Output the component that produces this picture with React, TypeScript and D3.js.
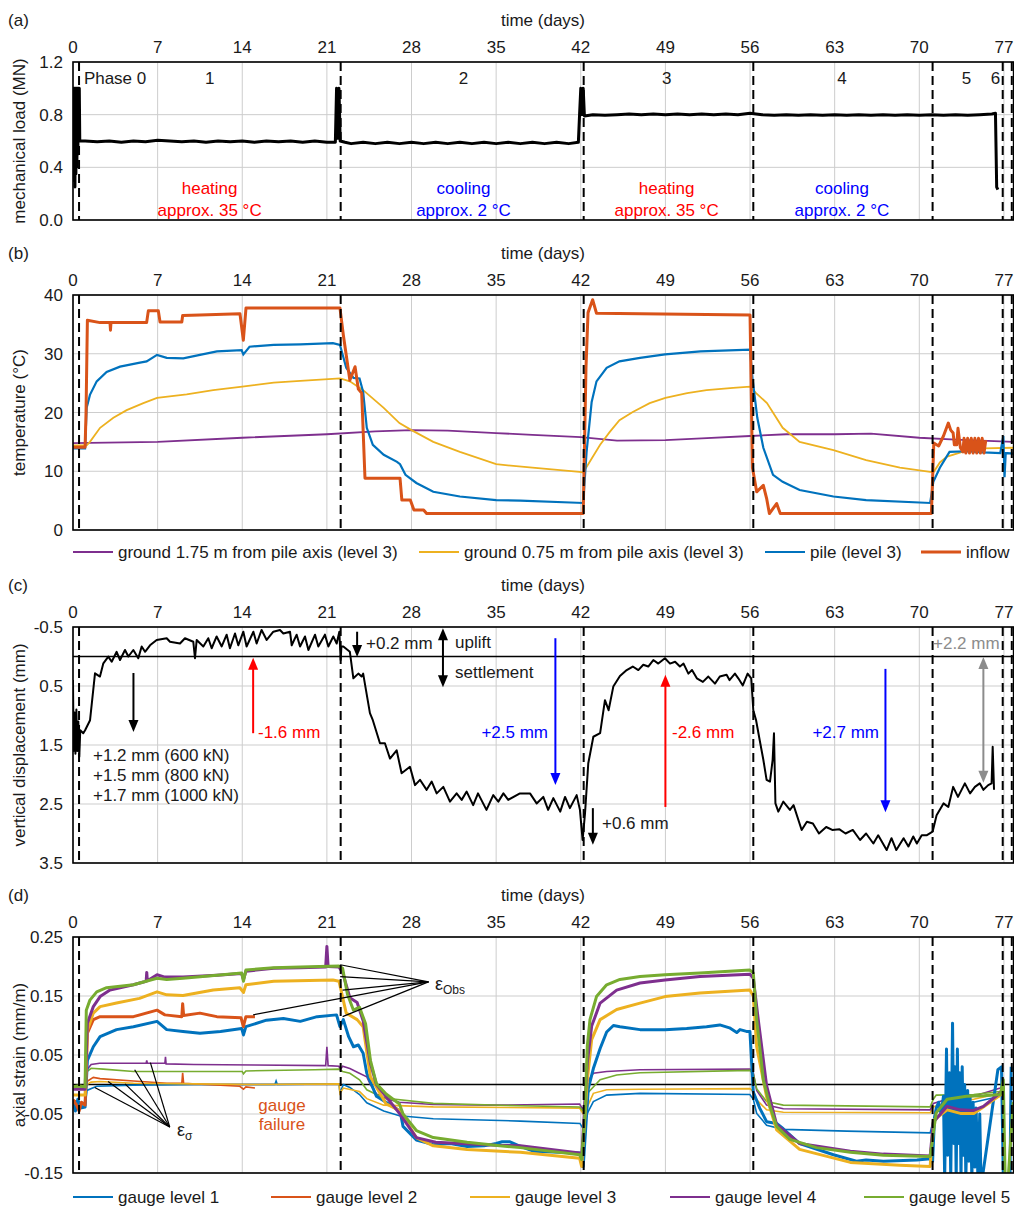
import * as d3 from "d3";

type Pt = [number, number];

const W = 1014;
const H = 1206;
const xMax = 77.8;
const dayTicks = [0, 7, 14, 21, 28, 35, 42, 49, 56, 63, 70, 77];
const phaseBounds = [0.5, 22.14, 42.24, 56.27, 71.1, 76.9, 77.65];

// (a) mechanical load
const loadTicks = [0, 0.4, 0.8, 1.2];
const loadMN: Pt[] = [
  [0, 0.45], [0.04, 1.0], [0.08, 0.3], [0.12, 1.0], [0.16, 0.25], [0.2, 1.0], [0.24, 0.35], [0.28, 1.0],
  [0.32, 0.4], [0.36, 1.0], [0.4, 0.5], [0.44, 1.0], [0.48, 0.6], [0.52, 1.0], [0.56, 0.6], [1, 0.6],
  [2, 0.595], [3, 0.6], [4, 0.59], [5, 0.6], [6, 0.595], [7, 0.605], [8, 0.6], [9, 0.595], [10, 0.6],
  [11, 0.59], [12, 0.6], [13, 0.595], [14, 0.6], [15, 0.59], [16, 0.6], [17, 0.595], [18, 0.6], [19, 0.59],
  [20, 0.6], [21, 0.59], [21.7, 0.59], [21.8, 1.0], [21.9, 0.62], [22.0, 1.0], [22.1, 0.6], [22.5, 0.59],
  [23, 0.58], [24, 0.59], [25, 0.58], [26, 0.59], [27, 0.58], [28, 0.59], [29, 0.58], [30, 0.59], [31, 0.58],
  [32, 0.59], [33, 0.58], [34, 0.59], [35, 0.58], [36, 0.59], [37, 0.58], [38, 0.59], [39, 0.58], [40, 0.59],
  [41, 0.58], [41.8, 0.59], [41.9, 0.8], [42.0, 1.0], [42.1, 0.8], [42.2, 1.0], [42.3, 0.79], [43, 0.8],
  [44, 0.795], [45, 0.8], [46, 0.805], [47, 0.8], [48, 0.805], [49, 0.8], [50, 0.805], [51, 0.8], [52, 0.805],
  [53, 0.8], [54, 0.805], [55, 0.8], [56, 0.81], [57, 0.8], [58, 0.795], [59, 0.8], [60, 0.795], [61, 0.8],
  [62, 0.795], [63, 0.8], [64, 0.795], [65, 0.8], [66, 0.795], [67, 0.8], [68, 0.795], [69, 0.8], [70, 0.795],
  [71, 0.8], [72, 0.795], [73, 0.8], [74, 0.795], [75, 0.8], [76, 0.805], [76.3, 0.81], [76.4, 0.25], [76.5, 0.23],
];
const phaseNames = ["Phase 0", "1", "2", "3", "4", "5", "6"];
const phaseLabelDays = [0.9, 11.3, 32.3, 49.1, 63.6, 73.9, 76.3];
const regimeDays = [11.3, 32.3, 49.1, 63.6];
const regimeNames = ["heating", "cooling", "heating", "cooling"];
const regimeTemps = ["approx. 35 °C", "approx. 2 °C", "approx. 35 °C", "approx. 2 °C"];

// (b) temperatures
const tempTicks = [0, 10, 20, 30, 40];
const ground175: Pt[] = [
  [0, 14.8], [7, 15.0], [14, 15.7], [21, 16.3], [25, 16.8], [28, 17.0], [31, 16.9], [35, 16.5], [38, 16.2],
  [42, 15.8], [45, 15.2], [49, 15.3], [52, 15.6], [56, 16.0], [59, 16.3], [63, 16.3], [66, 16.4], [70, 15.7],
  [73, 15.4], [77.8, 15.0],
];
const ground075: Pt[] = [
  [0, 14.4], [1.13, 14.4], [1.4, 15.0], [2.24, 17.4], [3.34, 19.1], [4.44, 20.4], [5.82, 21.6], [6.95, 22.5],
  [9.4, 23.1], [11.6, 23.8], [14.0, 24.4], [16.6, 25.1], [18.8, 25.4], [22.1, 25.8], [22.9, 25.3], [24.0, 23.8],
  [25.7, 20.8], [27.0, 18.2], [28.0, 17.0], [29.8, 15.0], [32.0, 13.3], [35.0, 11.2], [38.0, 10.6], [41.9, 9.9],
  [42.2, 9.8], [43.6, 14.5], [44.4, 16.7], [45.2, 18.7], [46.3, 20.1], [47.7, 21.6], [49.0, 22.5], [50.8, 23.3],
  [52.4, 23.8], [54.6, 24.2], [56.0, 24.4], [56.5, 23.3], [57.4, 21.6], [58.7, 17.4], [60.1, 15.0], [62.9, 13.6],
  [65.6, 11.9], [68.4, 10.6], [70.9, 9.9], [71.2, 9.9], [71.7, 11.5], [72.3, 12.5], [73.9, 13.5], [75.3, 13.9],
  [77.8, 14.0],
];
const pile: Pt[] = [
  [0, 13.9], [1.0, 13.9], [1.13, 20.8], [1.4, 23.0], [1.96, 25.3], [2.78, 26.9], [3.89, 27.8], [5.54, 28.5],
  [6.09, 28.7], [6.95, 29.8], [7.75, 29.3], [9.12, 29.2], [10.5, 29.8], [11.9, 30.4], [13.95, 30.6], [14.09, 29.9],
  [14.6, 31.2], [16.6, 31.5], [18.8, 31.6], [21.5, 31.8], [22.08, 31.5], [22.6, 27.6], [23.2, 25.9], [23.7, 25.8],
  [24.0, 23.5], [24.3, 17.4], [24.8, 14.5], [25.7, 12.8], [26.8, 11.6], [27.05, 11.2], [27.5, 9.4], [28.4, 8.0],
  [29.8, 6.5], [32.0, 5.7], [35.0, 5.1], [37.0, 5.0], [42.2, 4.6], [42.48, 13.3], [42.9, 21.8], [43.3, 25.3],
  [44.14, 27.6], [45.2, 28.7], [46.9, 29.3], [48.97, 29.9], [51.9, 30.4], [56.0, 30.7], [56.2, 25.9], [56.6, 19.1],
  [57.1, 14.0], [57.9, 9.4], [58.7, 8.2], [60.1, 6.8], [62.9, 5.7], [65.6, 5.1], [70.9, 4.6], [71.16, 8.2],
  [71.7, 10.6], [72.5, 13.3], [73.9, 13.4], [75.3, 13.2], [76.7, 13.1], [76.95, 16.0], [77.05, 9.0], [77.15, 13.1],
  [77.8, 13.0],
];
const inflow: Pt[] = [
  [0, 14.1], [1.0, 14.1], [1.08, 20.1], [1.19, 35.7], [2.24, 35.3], [3.06, 35.3], [3.1, 34.0], [3.14, 35.3],
  [6.09, 35.3], [6.23, 37.3], [7.06, 37.3], [7.2, 35.4], [9.0, 35.4], [9.07, 36.5], [10.5, 36.6], [13.81, 36.8],
  [14.09, 32.3], [14.31, 37.8], [22.08, 37.8], [22.36, 33.2], [22.9, 25.5], [23.33, 27.8], [23.6, 24.0],
  [23.88, 23.3], [24.15, 8.8], [27.05, 8.8], [27.2, 5.1], [27.9, 5.1], [28.2, 3.4], [29.0, 3.4], [29.25, 2.8],
  [42.2, 2.8], [42.43, 27.6], [42.6, 37.0], [42.98, 39.2], [43.3, 36.9], [56.0, 36.6], [56.2, 10.6], [56.55, 6.5],
  [57.1, 7.6], [57.37, 5.4], [57.6, 2.8], [58.2, 4.5], [58.5, 2.8], [71.0, 2.8], [71.2, 14.8], [71.6, 14.3],
  [72.0, 16.0], [72.4, 18.2], [72.6, 17.0], [72.8, 16.5], [72.9, 14.5], [73.1, 14.5], [73.2, 17.3], [73.4, 14.0],
  [73.6, 13.3], [73.7, 15.6], [73.85, 13.1], [74.0, 15.6], [74.15, 13.1], [74.3, 15.6], [74.45, 13.1],
  [74.6, 15.6], [74.75, 13.1], [74.9, 15.6], [75.05, 13.1], [75.2, 15.6], [75.35, 13.1], [75.5, 15.3],
];

// (c) vertical displacement
const dispTicks = [-0.5, 0.5, 1.5, 2.5, 3.5];
const displacement: Pt[] = [
  [0, 0.4], [0.05, 1.6], [0.12, 0.95], [0.2, 1.65], [0.28, 0.9], [0.36, 1.6], [0.44, 1.1], [0.52, 1.7],
  [0.6, 1.25], [0.85, 1.3], [1.0, 1.25], [1.41, 1.08], [1.82, 0.285], [2.23, 0.34], [2.51, 0.116], [2.92, 0.003],
  [3.2, 0.088], [3.61, -0.08], [3.89, 0.06], [4.3, -0.11], [4.58, 0.0], [4.99, -0.11], [5.4, 0.03], [5.68, -0.17],
  [5.96, -0.08], [6.37, -0.19], [6.92, -0.28], [7.75, -0.31], [8.02, -0.25], [8.85, -0.22], [9.26, -0.31],
  [9.95, -0.25], [10.09, 0.03], [10.23, -0.28], [10.78, -0.17], [11.19, -0.31], [11.47, -0.14], [11.88, -0.34],
  [12.3, -0.17], [12.71, -0.37], [12.98, -0.14], [13.4, -0.39], [13.67, -0.19], [14.09, -0.42], [14.36, -0.17],
  [14.92, -0.42], [15.19, -0.22], [15.6, -0.45], [16.02, -0.28], [16.57, -0.42], [17.12, -0.45], [17.4, -0.39],
  [17.95, -0.42], [18.09, -0.19], [18.5, -0.37], [18.78, -0.17], [19.19, -0.34], [19.47, -0.11], [20.02, -0.37],
  [20.29, -0.17], [20.84, -0.37], [21.12, -0.17], [21.53, -0.34], [21.81, -0.22], [22.03, -0.42], [22.14, 0.06],
  [22.2, -0.17], [22.36, -0.17], [22.9, -0.08], [23.19, 0.37], [23.6, 0.29], [23.87, 0.34], [24.0, 0.29],
  [24.56, 0.96], [24.8, 1.08], [25.39, 1.47], [25.8, 1.47], [26.22, 1.73], [26.77, 1.59], [27.18, 1.98],
  [27.87, 1.87], [28.29, 2.18], [28.7, 2.09], [29.25, 2.26], [29.67, 2.12], [30.08, 2.32], [30.63, 2.21],
  [31.18, 2.46], [31.73, 2.32], [32.15, 2.43], [32.56, 2.29], [33.1, 2.52], [33.5, 2.32], [34.2, 2.6],
  [34.76, 2.35], [35.18, 2.46], [35.6, 2.32], [36.0, 2.43], [36.97, 2.32], [37.8, 2.32], [38.35, 2.49],
  [38.9, 2.38], [39.3, 2.6], [39.73, 2.4], [40.3, 2.63], [40.7, 2.38], [41.1, 2.57], [41.66, 2.35], [41.93, 2.6],
  [42.15, 3.11], [42.35, 2.66], [42.62, 1.81], [43.04, 1.36], [43.6, 1.3], [44.0, 0.74], [44.3, 0.91],
  [44.69, 0.51], [45.24, 0.33], [45.8, 0.23], [46.3, 0.17], [46.76, 0.23], [47.17, 0.14], [47.58, 0.17],
  [48.0, 0.06], [48.41, 0.12], [48.96, 0.03], [49.38, 0.12], [49.8, 0.09], [50.2, 0.17], [50.5, 0.12],
  [50.9, 0.29], [51.2, 0.23], [51.6, 0.37], [52.1, 0.43], [52.55, 0.34], [53.1, 0.46], [53.5, 0.34], [54.06, 0.31],
  [54.3, 0.4], [54.75, 0.29], [55.03, 0.37], [55.4, 0.49], [55.8, 0.29], [56.1, 0.37], [56.27, 0.91], [56.5, 1.08],
  [56.8, 1.42], [57.1, 1.75], [57.37, 2.09], [57.65, 2.12], [57.87, 1.75], [57.98, 1.3], [58.1, 2.49],
  [58.34, 2.63], [58.75, 2.46], [59.3, 2.6], [59.6, 2.52], [60.27, 2.94], [60.7, 2.8], [61.2, 2.83], [61.7, 3.0],
  [62.3, 2.89], [62.8, 2.94], [63.4, 2.93], [63.9, 3.0], [64.5, 2.94], [65.1, 3.11], [65.6, 3.0], [66.2, 3.17],
  [66.6, 3.03], [67.3, 3.28], [67.7, 3.08], [68.1, 3.28], [68.7, 3.08], [69.1, 3.22], [69.5, 3.05], [69.8, 3.17],
  [70.2, 3.03], [70.6, 3.03], [71.1, 2.97], [71.43, 2.69], [72.0, 2.49], [72.4, 2.55], [72.8, 2.21], [73.2, 2.38],
  [73.77, 2.15], [74.2, 2.32], [74.6, 2.21], [75.0, 2.15], [75.3, 2.26], [75.7, 2.18], [75.98, 2.15],
  [76.07, 1.53], [76.18, 2.26],
];
// arrows: day, from, to (mm)
const dispArrows = [
  { day: 5.0, from: 0.28, to: 1.28, color: "#000", both: false },
  { day: 14.9, from: 1.3, to: 0.02, color: "#ff0000", both: false },
  { day: 23.5, from: -0.42, to: 0.01, color: "#000", both: false },
  { day: 30.6, from: -0.48, to: 0.52, color: "#000", both: true },
  { day: 39.9, from: -0.31, to: 2.18, color: "#0000ff", both: false },
  { day: 43.0, from: 2.57, to: 3.19, color: "#000", both: false },
  { day: 49.0, from: 2.55, to: 0.31, color: "#ff0000", both: false },
  { day: 67.2, from: 0.21, to: 2.64, color: "#0000ff", both: false },
  { day: 75.3, from: 0.01, to: 2.14, color: "#8c8c8c", both: true },
];

// (d) axial strain
const strainTicks = [-0.15, -0.05, 0.05, 0.15, 0.25];
const g1Obs: Pt[] = [
  [0, -0.03], [0.2, -0.045], [0.4, -0.025], [0.6, -0.04], [1.0, -0.038], [1.19, 0.041], [1.68, 0.064],
  [2.24, 0.081], [3.6, 0.093], [5.0, 0.098], [6.95, 0.107], [7.75, 0.093], [9.1, 0.09], [10.5, 0.087],
  [12.2, 0.09], [13.95, 0.095], [14.1, 0.084], [14.3, 0.098], [16.0, 0.109], [17.4, 0.112], [18.8, 0.107],
  [20.2, 0.115], [21.8, 0.118], [22.08, 0.098], [22.36, 0.11], [22.8, 0.081], [23.2, 0.064], [23.6, 0.067],
  [24.0, 0.053], [24.3, 0.019], [25.1, -0.02], [27.05, -0.045], [27.3, -0.071], [28.4, -0.094], [29.8, -0.102],
  [31.2, -0.1], [32.6, -0.105], [34, -0.104], [35.0, -0.1], [35.5, -0.097], [36.1, -0.097], [37.0, -0.105],
  [38.07, -0.113], [41.93, -0.116], [42.2, -0.139], [42.62, -0.007], [43.04, 0.027], [43.6, 0.061],
  [44.14, 0.089], [44.7, 0.1], [45.24, 0.098], [46.9, 0.093], [48.97, 0.093], [50.76, 0.095], [52.4, 0.098],
  [53.5, 0.101], [54.3, 0.096], [54.9, 0.088], [55.17, 0.093], [55.7, 0.09], [55.99, 0.09], [56.27, -0.013],
  [56.8, -0.04], [57.37, -0.063], [58.2, -0.066], [58.75, -0.075], [60.1, -0.1], [62.9, -0.119], [64.8, -0.13],
  [65.6, -0.128], [67.03, -0.13], [69.8, -0.128], [70.9, -0.126], [71.1, -0.13], [71.25, -0.06], [71.4, -0.04],
  [71.6, -0.03], [71.8, -0.05], [72.0, -0.02], [72.1, -0.16], [72.25, 0.06], [72.35, -0.12], [72.5, 0.02],
  [72.6, -0.16], [72.75, 0.104], [72.85, -0.1], [72.95, 0.03], [73.05, -0.16], [73.15, 0.06], [73.25, -0.1],
  [73.35, 0.02], [73.45, -0.16], [73.55, 0.03], [73.65, -0.12], [73.75, 0.0], [73.85, -0.16], [74.0, -0.01],
  [74.1, -0.13], [74.2, -0.02], [74.35, -0.16], [74.45, -0.03], [74.6, -0.14], [74.7, -0.04], [74.85, -0.16],
  [75.0, -0.05], [75.1, -0.16], [75.2, -0.16], [76.5, 0.025], [76.8, 0.03], [76.95, -0.16], [77.5, -0.16],
  [77.6, 0.03],
];
const g2Obs: Pt[] = [
  [0, -0.026], [0.3, -0.035], [0.5, -0.045], [0.7, -0.03], [1.0, -0.035], [1.19, 0.087], [1.68, 0.11],
  [2.24, 0.115], [5.0, 0.115], [6.95, 0.126], [7.6, 0.118], [9.0, 0.115], [9.07, 0.137], [9.15, 0.117],
  [10.5, 0.121], [11.9, 0.115], [13.9, 0.113], [14.09, 0.098], [14.3, 0.115], [15.05, 0.115],
];
const g3Obs: Pt[] = [
  [0, -0.018], [1.0, -0.018], [1.19, 0.092], [1.68, 0.121], [2.24, 0.132], [3.6, 0.138], [5.5, 0.146],
  [6.95, 0.157], [7.75, 0.152], [9.1, 0.151], [11.6, 0.16], [13.8, 0.164], [14.1, 0.156], [14.3, 0.169],
  [16.6, 0.175], [21.5, 0.177], [22.0, 0.175], [22.6, 0.121], [23.5, 0.11], [24.0, 0.098], [24.6, 0.013],
  [25.9, -0.033], [27.0, -0.044], [28.4, -0.09], [29.8, -0.104], [32.6, -0.11], [37.0, -0.115], [41.9, -0.125],
  [42.07, -0.139], [42.54, 0.008], [42.9, 0.076], [43.6, 0.11], [44.97, 0.127], [46.9, 0.138], [48.97, 0.149],
  [51.86, 0.155], [55.99, 0.16], [56.27, 0.15], [56.55, 0.064], [57.37, -0.021], [58.2, -0.077], [60.1, -0.11],
  [64.3, -0.132], [68.4, -0.137], [70.9, -0.139], [71.16, -0.061], [72.3, -0.043], [73.4, -0.049],
  [74.5, -0.049], [75.3, -0.038], [76.7, -0.018], [76.95, -0.01],
];
const g4Obs: Pt[] = [
  [0, -0.008], [1.0, -0.008], [1.19, 0.104], [1.68, 0.132], [2.24, 0.149], [3.06, 0.16], [5.0, 0.169],
  [6.05, 0.175], [6.1, 0.19], [6.15, 0.176], [6.95, 0.186], [7.6, 0.182], [9.1, 0.182], [11.9, 0.185],
  [13.95, 0.188], [14.1, 0.178], [14.3, 0.192], [16.6, 0.197], [18.8, 0.198], [20.9, 0.199], [21.0, 0.234],
  [21.1, 0.2], [22.0, 0.199], [22.3, 0.19], [22.9, 0.147], [23.5, 0.139], [24.0, 0.108], [24.6, 0.036],
  [25.1, 0.0], [27.0, -0.049], [28.4, -0.09], [30, -0.098], [35, -0.103], [37.0, -0.104], [41.9, -0.116],
  [42.07, -0.125], [42.54, 0.037], [42.9, 0.099], [43.6, 0.138], [44.97, 0.16], [46.9, 0.172], [48.97, 0.177],
  [51.86, 0.183], [55.99, 0.187], [56.27, 0.18], [56.68, 0.11], [57.37, -0.002], [58.2, -0.068], [60.1, -0.1],
  [64.3, -0.113], [67.03, -0.118], [70.9, -0.121], [71.16, -0.064], [72.3, -0.037], [73.4, -0.043],
  [74.5, -0.044], [75.3, -0.037], [76.7, -0.014], [76.95, -0.005],
];
const g5Obs: Pt[] = [
  [0, -0.004], [0.5, -0.002], [1.0, -0.004], [1.1, 0.126], [1.4, 0.143], [1.96, 0.157], [2.78, 0.164],
  [5.0, 0.169], [6.95, 0.18], [7.75, 0.178], [9.1, 0.18], [11.9, 0.185], [13.95, 0.189], [14.1, 0.175],
  [14.3, 0.194], [16.6, 0.198], [18.8, 0.199], [22.0, 0.201], [22.3, 0.197], [22.7, 0.153], [23.2, 0.126],
  [23.7, 0.131], [24.2, 0.103], [24.6, 0.041], [25.1, 0.001], [25.9, -0.016], [27.0, -0.033], [27.3, -0.05],
  [28.4, -0.078], [29.8, -0.09], [32.6, -0.098], [35.3, -0.104], [37.0, -0.107], [41.9, -0.119],
  [42.07, -0.127], [42.35, -0.048], [42.54, 0.065], [42.76, 0.11], [43.3, 0.149], [44.14, 0.169], [45.24, 0.178],
  [46.9, 0.183], [48.97, 0.186], [51.86, 0.189], [55.99, 0.194], [56.27, 0.189], [56.55, 0.11], [57.1, 0.008],
  [57.65, -0.037], [58.2, -0.071], [59.3, -0.093], [61.5, -0.107], [64.3, -0.115], [67.03, -0.12],
  [70.9, -0.122], [71.16, -0.082], [71.4, -0.048], [72.3, -0.025], [73.9, -0.02], [75.3, -0.019],
  [76.7, -0.017], [76.95, 0.008], [77.1, -0.16], [77.35, -0.16], [77.77, -0.03],
];
const g1Sig: Pt[] = [
  [0, -0.03], [1.0, -0.038], [1.15, -0.01], [1.96, -0.003], [5, -0.001], [10, 0.0], [16.7, 0.0], [16.8, 0.006],
  [16.9, 0.0], [22.0, 0.001], [22.08, -0.014], [22.36, 0.0], [22.9, -0.005], [23.7, -0.017], [24.3, -0.031],
  [25.7, -0.045], [27, -0.053], [29.8, -0.058], [37, -0.062], [41.93, -0.066], [42.2, -0.075], [42.54, -0.049],
  [43.04, -0.029], [44.14, -0.018], [46.9, -0.015], [55.99, -0.017], [56.27, -0.025], [56.55, -0.049],
  [57.37, -0.069], [58.75, -0.076], [64, -0.079], [70.9, -0.082], [71.16, -0.06], [71.4, -0.04], [72.3, -0.032],
  [74.5, -0.03], [76.7, -0.02],
];
const g2Sig: Pt[] = [
  [0, -0.026], [1.0, -0.035], [1.15, 0.005], [1.68, 0.012], [2.24, 0.01], [5, 0.006], [7.75, 0.002], [9.0, 0.002],
  [9.07, 0.02], [9.15, 0.002], [11, 0.0], [13.8, -0.003], [14.1, -0.008], [14.3, -0.004], [15.05, -0.006],
];
const g3Sig: Pt[] = [
  [0, -0.018], [1.0, -0.018], [1.15, 0.0], [1.5, 0.004], [2.24, 0.005], [5, 0.002], [10, 0.001], [15, 0.0],
  [22.0, 0.001], [22.08, -0.015], [22.36, -0.006], [23.7, -0.012], [24.3, -0.024], [25.7, -0.035],
  [29.8, -0.038], [41.9, -0.04], [42.2, -0.05], [42.54, -0.038], [43.04, -0.015], [44.14, -0.009],
  [46.9, -0.008], [55.99, -0.007], [56.27, -0.012], [56.55, -0.026], [57.37, -0.043], [58.75, -0.047],
  [70.9, -0.048], [71.16, -0.038], [72.3, -0.03], [74.5, -0.025], [76.7, -0.015], [76.95, -0.012],
];
const g4Sig: Pt[] = [
  [0, -0.008], [1.0, -0.008], [1.15, 0.025], [1.5, 0.034], [2.2, 0.036], [5, 0.036], [6.05, 0.036],
  [6.1, 0.041], [6.15, 0.036], [7.6, 0.036], [7.65, 0.047], [7.7, 0.035], [10, 0.034], [15, 0.033],
  [20.9, 0.032], [21.0, 0.064], [21.1, 0.032], [22.0, 0.031], [22.1, 0.025], [22.3, 0.031], [22.9, 0.027],
  [23.6, 0.02], [24.3, 0.013], [24.6, 0.0], [25.1, -0.016], [25.9, -0.024], [27, -0.03], [29.8, -0.034],
  [35, -0.035], [41.9, -0.033], [42.2, -0.043], [42.54, 0.004], [43.04, 0.019], [44.14, 0.022], [46.9, 0.025],
  [55.99, 0.026], [56.27, 0.02], [56.55, -0.01], [57.37, -0.035], [58.75, -0.041], [70.9, -0.043],
  [71.16, -0.032], [72.3, -0.025], [74.5, -0.02], [76.7, -0.006], [76.95, -0.004],
];
const g5Sig: Pt[] = [
  [0, -0.004], [1.0, -0.004], [1.15, 0.022], [1.5, 0.0275], [2.5, 0.026], [5.0, 0.022], [10, 0.022],
  [14, 0.022], [14.1, 0.018], [14.3, 0.023], [20, 0.025], [22.0, 0.026], [22.3, 0.022], [22.9, 0.019],
  [23.7, 0.008], [24.3, -0.009], [25.7, -0.023], [29.8, -0.032], [37, -0.036], [41.9, -0.038], [42.2, -0.045],
  [42.54, -0.015], [43.6, 0.008], [44.97, 0.016], [46.9, 0.02], [55.99, 0.024], [56.27, 0.018], [56.55, -0.007],
  [57.37, -0.029], [58.75, -0.035], [70.9, -0.038], [71.16, -0.025], [71.4, -0.018], [74.5, -0.017],
  [76.7, -0.012], [76.95, -0.01],
];
const epsObsHub: Pt = [29.4, 0.174];
const epsObsTargets: Pt[] = [[22.1, 0.203], [22.1, 0.183], [22.3, 0.16], [14.9, 0.118], [22.3, 0.115]];
const epsSigHub: Pt = [8.0, -0.072];
const epsSigTargets: Pt[] = [[1.8, -0.005], [2.9, 0.005], [4.3, 0.001], [5.1, 0.025], [6.4, 0.037]];

const C = {
  blue: "#0072BD",
  orange: "#D95319",
  yellow: "#EDB120",
  purple: "#7E2F8E",
  green: "#77AC30",
};

const x = d3.scaleLinear().domain([0, xMax]).range([73, 1013.6]);
const left = x(0);
const right = x(xMax);
const font = "Arial, 'Liberation Sans', Helvetica, sans-serif";

function path(data: Pt[], y: d3.ScaleLinear<number, number>) {
  return d3.line<Pt>().x((d) => x(d[0])).y((d) => y(d[1]))(data) || "";
}

function Panel({ tag, top, bottom, y, ticks, fmt, title, zero, children, overlay }: any) {
  const clipId = `clip-${tag}`;
  return (
    <g>
      <defs>
        <clipPath id={clipId}>
          <rect x={left} y={top} width={right - left} height={bottom - top} />
        </clipPath>
      </defs>
      {dayTicks.map((d) => (
        <line key={"v" + d} x1={x(d)} x2={x(d)} y1={top} y2={bottom} stroke="#cdcdcd" strokeWidth={1} />
      ))}
      {ticks.map((v: number) => (
        <line key={"h" + v} x1={left} x2={right} y1={y(v)} y2={y(v)} stroke="#cdcdcd" strokeWidth={1} />
      ))}
      {zero && <line x1={left} x2={right} y1={y(0)} y2={y(0)} stroke="#000" strokeWidth={1.3} />}
      <g clipPath={`url(#${clipId})`}>{children}</g>
      {phaseBounds.map((d) => (
        <line key={"p" + d} x1={x(d)} x2={x(d)} y1={top} y2={bottom} stroke="#000" strokeWidth={2}
          strokeDasharray="9,5" />
      ))}
      <rect x={left} y={top} width={right - left} height={bottom - top} fill="none" stroke="#000" strokeWidth={1.6} />
      <text x={8} y={top - 36}>({tag})</text>
      <text x={543} y={top - 36} textAnchor="middle">time (days)</text>
      {dayTicks.map((d) => (
        <text key={"t" + d} x={x(d)} y={top - 9} textAnchor="middle">{d}</text>
      ))}
      {ticks.map((v: number) => (
        <text key={"y" + v} x={63} y={y(v)} dy="0.36em" textAnchor="end">{fmt(v)}</text>
      ))}
      <text transform={`translate(25,${(top + bottom) / 2}) rotate(-90)`} textAnchor="middle">{title}</text>
      {overlay}
    </g>
  );
}

function Arrow({ px, y1, y2, color, both }: any) {
  const dir = y2 > y1 ? 1 : -1;
  const head = 12;
  const hw = 5;
  return (
    <g>
      <line x1={px} x2={px} y1={both ? y1 + dir * (head - 2) : y1} y2={y2 - dir * (head - 2)} stroke={color} strokeWidth={2} />
      <polygon points={`${px - hw},${y2 - dir * head} ${px + hw},${y2 - dir * head} ${px},${y2}`} fill={color} />
      {both && <polygon points={`${px - hw},${y1 + dir * head} ${px + hw},${y1 + dir * head} ${px},${y1}`} fill={color} />}
    </g>
  );
}

function Legend({ yPos, items }: any) {
  return (
    <g>
      {items.map((it: any) => (
        <g key={it.label}>
          <line x1={it.x} x2={it.x + 40} y1={yPos} y2={yPos} stroke={it.color} strokeWidth={it.w} />
          <text x={it.x + 45} y={yPos + 6}>{it.label}</text>
        </g>
      ))}
    </g>
  );
}

export default function App() {
  const yA = d3.scaleLinear().domain([0, 1.2]).range([220, 62]);
  const yB = d3.scaleLinear().domain([0, 40]).range([530, 295]);
  const yC = d3.scaleLinear().domain([-0.5, 3.5]).range([627, 863]);
  const yD = d3.scaleLinear().domain([-0.15, 0.25]).range([1173, 937]);

  const legendB = [
    { x: 73, color: C.purple, w: 2, label: "ground 1.75 m from pile axis (level 3)" },
    { x: 419, color: C.yellow, w: 2, label: "ground 0.75 m from pile axis (level 3)" },
    { x: 765, color: C.blue, w: 2, label: "pile (level 3)" },
    { x: 921, color: C.orange, w: 3, label: "inflow" },
  ];
  const legendD = [
    { x: 73, color: C.blue, w: 2, label: "gauge level 1" },
    { x: 271, color: C.orange, w: 2, label: "gauge level 2" },
    { x: 470, color: C.yellow, w: 2, label: "gauge level 3" },
    { x: 670, color: C.purple, w: 2, label: "gauge level 4" },
    { x: 864, color: C.green, w: 2, label: "gauge level 5" },
  ];
  const obs = [
    { d: g1Obs, c: C.blue },
    { d: g2Obs, c: C.orange },
    { d: g3Obs, c: C.yellow },
    { d: g4Obs, c: C.purple },
    { d: g5Obs, c: C.green },
  ];
  const sig = [
    { d: g1Sig, c: C.blue },
    { d: g2Sig, c: C.orange },
    { d: g3Sig, c: C.yellow },
    { d: g4Sig, c: C.purple },
    { d: g5Sig, c: C.green },
  ];

  return (
    <svg width={W} height={H} style={{ position: "absolute", left: 0, top: 0, background: "#fff" }}
      fontFamily={font} fontSize={17} fill="#1a1a1a">
      {/* (a) */}
      <Panel tag="a" top={62} bottom={220} y={yA} ticks={loadTicks} fmt={(v: number) => v.toFixed(1)}
        title="mechanical load (MN)"
        overlay={
          <g>
            {phaseNames.map((n, i) => (
              <text key={n} x={x(phaseLabelDays[i])} y={84} textAnchor={i === 0 ? "start" : "middle"}>{n}</text>
            ))}
            {regimeDays.map((d, i) => (
              <g key={d} fill={regimeNames[i] === "heating" ? "#ff0000" : "#0000ff"}>
                <text x={x(d)} y={194} textAnchor="middle">{regimeNames[i]}</text>
                <text x={x(d)} y={216} textAnchor="middle">{regimeTemps[i]}</text>
              </g>
            ))}
          </g>
        }>
        <path d={path(loadMN, yA)} fill="none" stroke="#000" strokeWidth={3} strokeLinejoin="round" />
      </Panel>

      {/* (b) */}
      <Panel tag="b" top={295} bottom={530} y={yB} ticks={tempTicks} fmt={(v: number) => String(v)}
        title="temperature (°C)" overlay={<Legend yPos={552} items={legendB} />}>
        <path d={path(ground175, yB)} fill="none" stroke={C.purple} strokeWidth={1.8} />
        <path d={path(ground075, yB)} fill="none" stroke={C.yellow} strokeWidth={1.8} />
        <path d={path(pile, yB)} fill="none" stroke={C.blue} strokeWidth={2.2} />
        <path d={path(inflow, yB)} fill="none" stroke={C.orange} strokeWidth={3} strokeLinejoin="round" />
      </Panel>

      {/* (c) */}
      <Panel tag="c" top={627} bottom={863} y={yC} ticks={dispTicks} fmt={(v: number) => v.toFixed(1)}
        title="vertical displacement (mm)" zero
        overlay={
          <g>
            {dispArrows.map((a, i) => (
              <Arrow key={i} px={x(a.day)} y1={yC(a.from)} y2={yC(a.to)} color={a.color} both={a.both} />
            ))}
            <text x={93} y={761}>+1.2 mm (600 kN)</text>
            <text x={93} y={781}>+1.5 mm (800 kN)</text>
            <text x={93} y={801}>+1.7 mm (1000 kN)</text>
            <text x={258} y={738} fill="#ff0000">-1.6 mm</text>
            <text x={366} y={649}>+0.2 mm</text>
            <text x={455} y={648}>uplift</text>
            <text x={455} y={678}>settlement</text>
            <text x={548} y={738} fill="#0000ff" textAnchor="end">+2.5 mm</text>
            <text x={602} y={829}>+0.6 mm</text>
            <text x={672} y={738} fill="#ff0000">-2.6 mm</text>
            <text x={879} y={738} fill="#0000ff" textAnchor="end">+2.7 mm</text>
            <text x={933} y={649} fill="#8c8c8c">+2.2 mm</text>
          </g>
        }>
        <path d={path(displacement, yC)} fill="none" stroke="#000" strokeWidth={2} strokeLinejoin="round" />
      </Panel>

      {/* (d) */}
      <Panel tag="d" top={937} bottom={1173} y={yD} ticks={strainTicks} fmt={(v: number) => v.toFixed(2)}
        title="axial strain (mm/m)" zero
        overlay={
          <g>
            {epsObsTargets.map((t, i) => (
              <line key={"o" + i} x1={x(epsObsHub[0])} y1={yD(epsObsHub[1])} x2={x(t[0])} y2={yD(t[1])}
                stroke="#000" strokeWidth={1.2} />
            ))}
            {epsSigTargets.map((t, i) => (
              <line key={"s" + i} x1={x(epsSigHub[0])} y1={yD(epsSigHub[1])} x2={x(t[0])} y2={yD(t[1])}
                stroke="#000" strokeWidth={1.2} />
            ))}
            <text x={435} y={990} fontSize={18}>ε<tspan fontSize={12} dy={4}>Obs</tspan></text>
            <text x={177} y={1136} fontSize={18}>ε<tspan fontSize={12} dy={4}>σ</tspan></text>
            <text x={282} y={1111} fill={C.orange} textAnchor="middle">gauge</text>
            <text x={282} y={1130} fill={C.orange} textAnchor="middle">failure</text>
            <Legend yPos={1197} items={legendD} />
          </g>
        }>
        {sig.map((s, i) => (
          <path key={"sig" + i} d={path(s.d, yD)} fill="none" stroke={s.c} strokeWidth={1.6} />
        ))}
        {obs.map((s, i) => (
          <path key={"obs" + i} d={path(s.d, yD)} fill="none" stroke={s.c} strokeWidth={3}
            strokeLinejoin="round" />
        ))}
      </Panel>
    </svg>
  );
}
